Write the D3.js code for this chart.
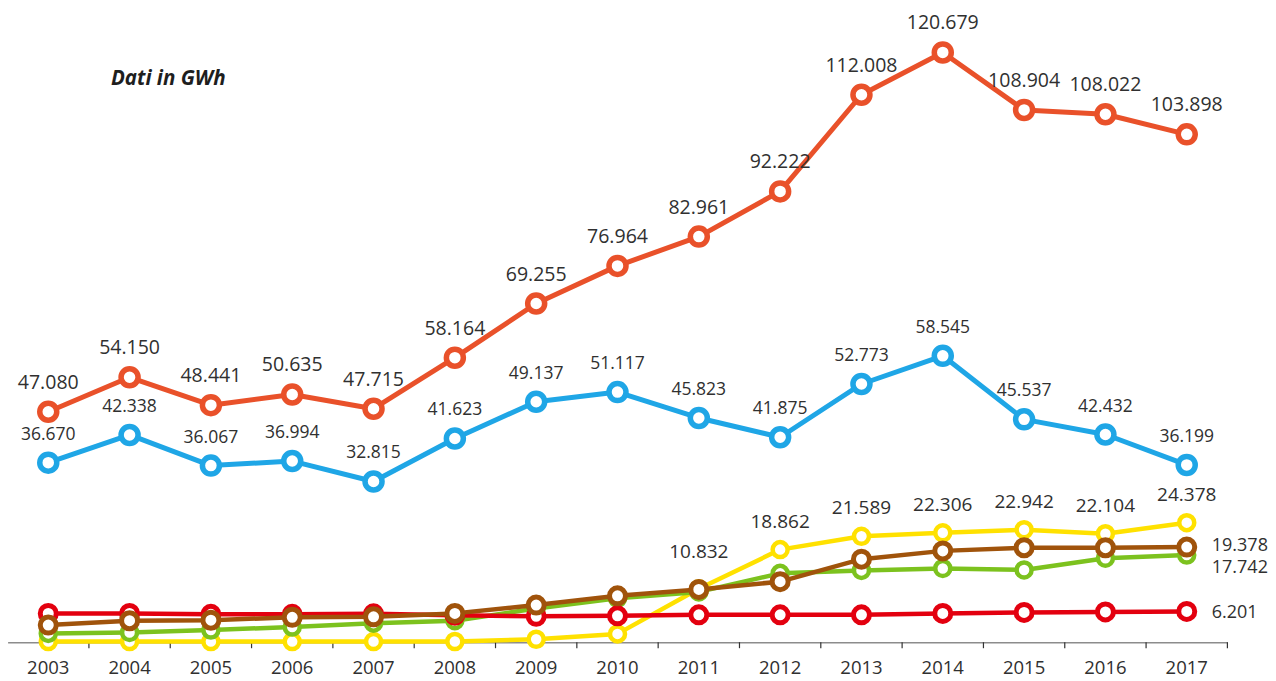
<!DOCTYPE html>
<html>
<head>
<meta charset="utf-8">
<script src="https://cdnjs.cloudflare.com/ajax/libs/d3/7.8.5/d3.min.js"></script>
<style>
body { margin: 0; background: #fff; }
text { font-family: "Open Sans", sans-serif; fill: #303030; }
</style>
</head>
<body>
<script>
var years = ["2003","2004","2005","2006","2007","2008","2009","2010","2011","2012","2013","2014","2015","2016","2017"];

var orangeValues = [47.080, 54.150, 48.441, 50.635, 47.715, 58.164, 69.255, 76.964, 82.961, 92.222, 112.008, 120.679, 108.904, 108.022, 103.898];
var blueValues   = [36.670, 42.338, 36.067, 36.994, 32.815, 41.623, 49.137, 51.117, 45.823, 41.875, 52.773, 58.545, 45.537, 42.432, 36.199];
var yellowValues = [0.02, 0.02, 0.02, 0.02, 0.03, 0.04, 0.5, 1.6, 10.832, 18.862, 21.589, 22.306, 22.942, 22.104, 24.378];
var greenValues  = [1.7, 1.9, 2.4, 3.0, 3.8, 4.3, 6.8, 8.9, 10.2, 14.0, 14.6, 15.0, 14.7, 17.1, 17.742];
var redValues    = [5.8, 5.8, 5.6, 5.6, 5.7, 5.4, 5.2, 5.3, 5.5, 5.5, 5.5, 5.8, 6.0, 6.1, 6.201];
var brownValues  = [3.4, 4.3, 4.4, 5.0, 5.1, 5.8, 7.5, 9.4, 10.7, 12.3, 16.9, 18.6, 19.25, 19.25, 19.378];

// which points carry a value label above the marker
var yellowLabels = [8, 9, 10, 11, 12, 13, 14];
var orangeLabels = d3.range(15);
var blueLabels = d3.range(15);

var width = 1276,
    height = 681;

var svg = d3.select("body")
    .append("svg")
    .attr("width", width)
    .attr("height", height);

var x = d3.scaleBand()
    .domain(years)
    .range([7.6, 1227.4])
    .padding(0);

var y0 = 641.7, pxPerUnit = 4.883;
var y = d3.scaleLinear()
    .domain([0, 130])
    .range([y0, y0 - 130 * pxPerUnit]);

function cx(i) { return x(years[i]) + x.bandwidth() / 2; }

var fmt = d3.format(".3f");

svg.append("text")
    .attr("x", 111)
    .attr("y", 85)
    .style("font-weight", "bold")
    .style("font-style", "italic")
    .style("font-size", "20.5px")
    .style("fill", "#1e1e1e")
    .text("Dati in GWh");

// axis
var xAxis = d3.axisBottom(x).tickSize(0).tickSizeOuter(0).tickPadding(19);
var gAxis = svg.append("g")
    .attr("transform", "translate(0," + (y0 + 0.5) + ")")
    .call(xAxis);
gAxis.select(".domain").attr("stroke", "#8c8c8c").attr("stroke-width", 1.5);
gAxis.selectAll("text")
    .style("font-size", "18.5px")
    .style("font-family", "'Open Sans', sans-serif")
    .attr("fill", "#2e2e2e");

var bounds = years.slice(1).map(function(d) { return x(d); }).concat([x.range()[1]]);
gAxis.selectAll(".btick")
    .data(bounds)
    .enter().append("line")
    .attr("class", "btick")
    .attr("x1", function(d) { return d; })
    .attr("x2", function(d) { return d; })
    .attr("y1", 0)
    .attr("y2", 6)
    .attr("stroke", "#333")
    .attr("stroke-width", 1.2);

var series = [
  {values: yellowValues, color: "#ffe100", lw: 4.5, r: 7.5, sw: 4.5},
  {values: greenValues,  color: "#7cc21e", lw: 4.5, r: 7.5, sw: 4.5},
  {values: redValues,    color: "#e3000f", lw: 4.5, r: 8,   sw: 5},
  {values: brownValues,  color: "#a0530b", lw: 4.5, r: 8,   sw: 5},
  {values: blueValues,   color: "#1fa6e6", lw: 5,   r: 8.5, sw: 5.5},
  {values: orangeValues, color: "#e9512a", lw: 5,   r: 8.5, sw: 5.5}
];

var line = d3.line()
    .x(function(d, i) { return cx(i); })
    .y(function(d) { return y(d); });

series.forEach(function(s) {
  var g = svg.append("g");
  g.append("path")
      .datum(s.values)
      .attr("d", line)
      .attr("fill", "none")
      .attr("stroke", s.color)
      .attr("stroke-width", s.lw)
      .attr("stroke-linejoin", "round");
  g.selectAll("circle")
      .data(s.values)
      .enter().append("circle")
      .attr("cx", function(d, i) { return cx(i); })
      .attr("cy", function(d) { return y(d); })
      .attr("r", s.r)
      .attr("fill", "#fff")
      .attr("stroke", s.color)
      .attr("stroke-width", s.sw);
});

function topLabels(values, idx, size, lift) {
  svg.append("g").selectAll("text")
      .data(idx)
      .enter().append("text")
      .attr("x", function(i) { return cx(i); })
      .attr("y", function(i) { return y(values[i]) - lift(i); })
      .attr("text-anchor", "middle")
      .style("font-size", size + "px")
      .text(function(i) { return fmt(values[i]); });
}

topLabels(orangeValues, orangeLabels, 19.5, function() { return 23; });
topLabels(blueValues, blueLabels, 17.5, function() { return 23; });
topLabels(yellowValues, yellowLabels, 19, function(i) { return i == 8 ? 31 : 22; });

var last = years.length - 1;
[[brownValues, -3], [greenValues, 11], [redValues, 0]].forEach(function(p) {
  var v = p[0][last];
  svg.append("text")
      .attr("x", cx(last) + 25)
      .attr("y", y(v) + 7 + p[1])
      .style("font-size", "18px")
      .text(fmt(v));
});
</script>
</body>
</html>
